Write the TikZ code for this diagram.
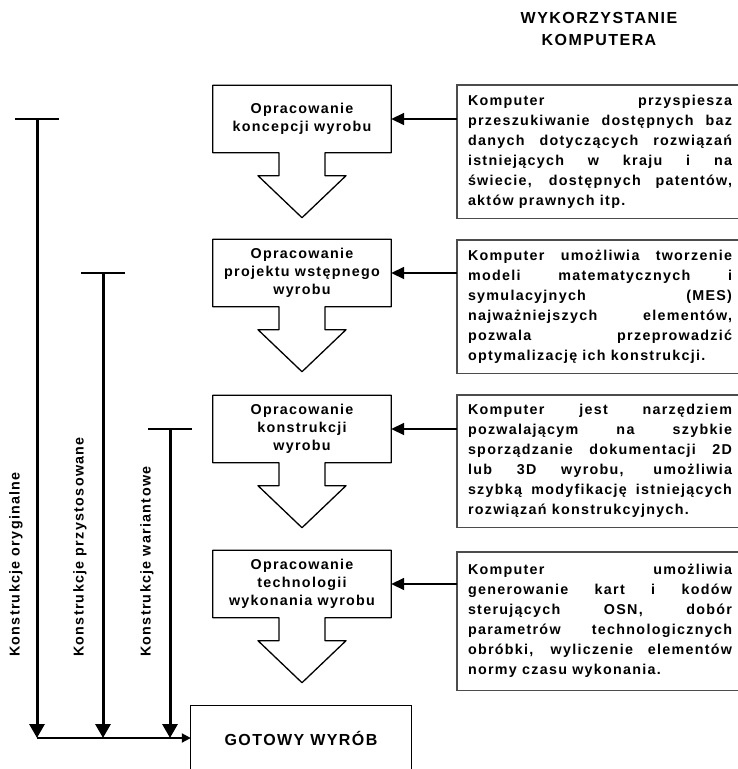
\documentclass[tikz,border=0pt]{standalone}
\usepackage{fontspec}
\setmainfont{Liberation Sans}[LetterSpace=9]
\usetikzlibrary{arrows.meta}
\hbadness=10000
\hfuzz=20pt
\begin{document}
\begin{tikzpicture}[x=1pt,y=-1pt,
  stagebox/.style={minimum width=178pt,minimum height=67pt,inner sep=0pt,align=center,
    font=\bfseries\fontsize{14.3}{18}\selectfont},
  outline/.style={line width=1.3pt,line join=round,draw=black},
  infobox/.style={text width=264pt,inner sep=0pt,align=justify,
    font=\bfseries\fontsize{14.3}{20}\selectfont},
  frame/.style={line width=1.4pt,draw=black!70},
  feed/.style={line width=1.8pt,-{Triangle[length=13pt,width=12pt]}},
  vline/.style={line width=3pt,-{Triangle[length=14pt,width=15pt]}},
  tbar/.style={line width=2pt},
  hline/.style={line width=2pt,-{Triangle[length=9pt,width=9pt]}},
  vlabel/.style={rotate=90,anchor=west,inner sep=0pt,font=\bfseries\fontsize{14.3}{16}\selectfont},
  head/.style={align=center,inner sep=0pt,font=\bfseries\fontsize{16}{22}\selectfont},
]
\useasboundingbox (0,0) rectangle (738,769);

% header
\node[head] (hd) at (599,29) {WYKORZYSTANIE\\KOMPUTERA};

% left stage boxes
\node[stagebox] (b1) at (302,119) {Opracowanie\\koncepcji wyrobu};
\node[stagebox] (b2) at (302,273) {Opracowanie\\projektu wstępnego\\wyrobu};
\node[stagebox] (b3) at (302,429) {Opracowanie\\konstrukcji\\wyrobu};
\node[stagebox] (b4) at (302,584) {Opracowanie\\technologii\\wykonania wyrobu};

\foreach \b in {b1,b2,b3,b4}{
  \draw[outline] (\b.south west) -- ([xshift=-23pt]\b.south) -- ++(0,23) -- ++(-21,0)
    -- ++(44,42) -- ++(44,-42) -- ++(-21,0) -- ++(0,-23) -- (\b.south east)
    -- (\b.north east) -- (\b.north west) -- cycle;
}

% right info boxes
\node[infobox,minimum height=133pt] (r1) at (600,151.5) {Komputer przyspiesza\linebreak
przeszukiwanie dostępnych baz\linebreak
danych dotyczących rozwiązań\linebreak
istniejących w kraju i na\linebreak
świecie, dostępnych patentów,\linebreak
aktów prawnych itp.};
\node[infobox,minimum height=133pt] (r2) at (600,306.5) {Komputer umożliwia tworzenie\linebreak
modeli matematycznych i\linebreak
symulacyjnych (MES)\linebreak
najważniejszych elementów,\linebreak
pozwala przeprowadzić\linebreak
optymalizację ich konstrukcji.};
\node[infobox,minimum height=132pt] (r3) at (600,461) {Komputer jest narzędziem\linebreak
pozwalającym na szybkie\linebreak
sporządzanie dokumentacji 2D\linebreak
lub 3D wyrobu, umożliwia\linebreak
szybką modyfikację istniejących\linebreak
rozwiązań konstrukcyjnych.};
\node[infobox,minimum height=138pt] (r4) at (600,621) {Komputer umożliwia\linebreak
generowanie kart i kodów\linebreak
sterujących OSN, dobór\linebreak
parametrów technologicznych\linebreak
obróbki, wyliczenie elementów\linebreak
normy czasu wykonania.};

\foreach \r/\b in {r1/b1,r2/b2,r3/b3,r4/b4}{
  \draw[frame] ([xshift=8pt]\r.north east) -- ([xshift=-11pt]\r.north west)
    -- ([xshift=-11pt]\r.south west) -- ([xshift=8pt]\r.south east);
  \draw[feed] ([xshift=-11pt]\r.west |- \b.east) -- (\b.east);
}

% final product
\node[minimum width=220pt,minimum height=64pt,inner sep=0pt,
  font=\bfseries\fontsize{16}{18}\selectfont] (g) at (301,738) {GOTOWY WYRÓB};
\draw[line width=1.3pt] (g.south west) -- (g.north west) -- (g.north east) -- (g.south east);

% construction types
\coordinate (t1) at (37,119);
\coordinate (t2) at (103,273);
\coordinate (t3) at (170,429);
\coordinate (e1) at (37,738);
\coordinate (e2) at (103,738);
\coordinate (e3) at (170,738);
\foreach \i in {1,2,3}{
  \draw[tbar] ([xshift=-22pt]t\i) -- ([xshift=22pt]t\i);
  \draw[vline] (t\i) -- (e\i);
}
\draw[hline] (e1) -- (g.west);

\node[vlabel] (l1) at (16,657) {Konstrukcje oryginalne};
\node[vlabel] (l2) at (80,657) {Konstrukcje przystosowane};
\node[vlabel] (l3) at (147,657) {Konstrukcje wariantowe};
\end{tikzpicture}
\end{document}
